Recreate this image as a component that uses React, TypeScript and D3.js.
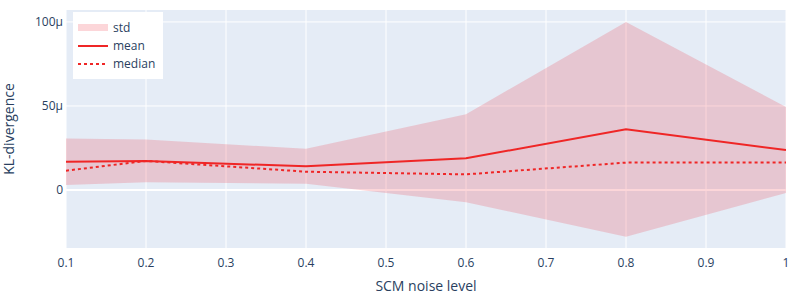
import * as d3 from "d3";

// noise levels on the x axis
const noise = [0.1, 0.2, 0.4, 0.6, 0.8, 1.0];
// KL divergence, in units of 1e-6 (μ)
const meanKL = [16.8, 17.3, 14.1, 18.9, 36.1, 23.8];
const medianKL = [11.5, 17.3, 10.9, 9.3, 16.3, 16.3];
const stdKL = [13.8, 12.7, 10.4, 26.2, 63.9, 25.6];
const yTicks = [0, 50, 100];

const W = 800,
  H = 300;
const margin = { top: 10, right: 14, bottom: 52, left: 66 };
const font = "'Open Sans', verdana, arial, sans-serif";
const ink = "#2a3f5f";
const red = "rgb(239,38,38)";
const band = "rgba(239,30,45,0.18)";

export default function App() {
  const innerW = W - margin.left - margin.right;
  const innerH = H - margin.top - margin.bottom;

  const x = d3.scaleLinear().domain([0.1, 1]).range([0, innerW]);
  const y = d3.scaleLinear().domain([-34.5, 107.1]).range([innerH, 0]);

  const rows = noise.map((n, i) => ({
    n,
    mean: meanKL[i],
    median: medianKL[i],
    lo: meanKL[i] - stdKL[i],
    hi: meanKL[i] + stdKL[i],
  }));

  const area = d3
    .area<(typeof rows)[number]>()
    .x((d) => x(d.n))
    .y0((d) => y(d.lo))
    .y1((d) => y(d.hi));
  const meanLine = d3
    .line<(typeof rows)[number]>()
    .x((d) => x(d.n))
    .y((d) => y(d.mean));
  const medianLine = d3
    .line<(typeof rows)[number]>()
    .x((d) => x(d.n))
    .y((d) => y(d.median));

  const xTicks = x.ticks(10);
  const fmtX = d3.format("~g");
  const fmtY = (v: number) => (v === 0 ? "0" : `${v}μ`);

  return (
    <svg
      width={W}
      height={H}
      style={{ position: "absolute", left: 0, top: 0, background: "#fff" }}
      fontFamily={font}
    >
      <defs>
        <clipPath id="plot">
          <rect width={innerW} height={innerH} />
        </clipPath>
      </defs>
      <g transform={`translate(${margin.left},${margin.top})`}>
        <rect width={innerW} height={innerH} fill="#E5ECF6" />
        {/* grid */}
        {xTicks.map((t) => (
          <line key={t} x1={x(t)} x2={x(t)} y1={0} y2={innerH} stroke="#fff" strokeWidth={1} />
        ))}
        {yTicks.map((t) => (
          <line
            key={t}
            x1={0}
            x2={innerW}
            y1={y(t)}
            y2={y(t)}
            stroke="#fff"
            strokeWidth={t === 0 ? 2 : 1}
          />
        ))}
        <g clipPath="url(#plot)">
          <path d={area(rows) ?? ""} fill={band} />
          <path d={meanLine(rows) ?? ""} fill="none" stroke={red} strokeWidth={2} />
          <path
            d={medianLine(rows) ?? ""}
            fill="none"
            stroke={red}
            strokeWidth={2}
            strokeDasharray="3,3"
          />
        </g>
        {/* tick labels */}
        {xTicks.map((t) => (
          <text key={t} x={x(t)} y={innerH + 19} textAnchor="middle" fontSize={12} fill={ink}>
            {fmtX(t)}
          </text>
        ))}
        {yTicks.map((t) => (
          <text key={t} x={-3} y={y(t) + 4} textAnchor="end" fontSize={12} fill={ink}>
            {fmtY(t)}
          </text>
        ))}
        <text x={innerW / 2} y={innerH + 43} textAnchor="middle" fontSize={14} fill={ink}>
          SCM noise level
        </text>
        <text
          transform={`translate(${-52},${innerH / 2}) rotate(-90)`}
          textAnchor="middle"
          fontSize={14}
          fill={ink}
        >
          KL-divergence
        </text>
        {/* legend */}
        <g transform="translate(7,2)">
          <rect width={90} height={67} fill="#fff" />
          <rect x={5} y={12} width={30} height={7} fill={band} />
          <line x1={5} x2={35} y1={34} y2={34} stroke={red} strokeWidth={2} />
          <line x1={5} x2={35} y1={52} y2={52} stroke={red} strokeWidth={2} strokeDasharray="3,3" />
          {["std", "mean", "median"].map((s, i) => (
            <text key={s} x={40} y={20 + i * 18} fontSize={12} fill={ink}>
              {s}
            </text>
          ))}
        </g>
      </g>
    </svg>
  );
}
